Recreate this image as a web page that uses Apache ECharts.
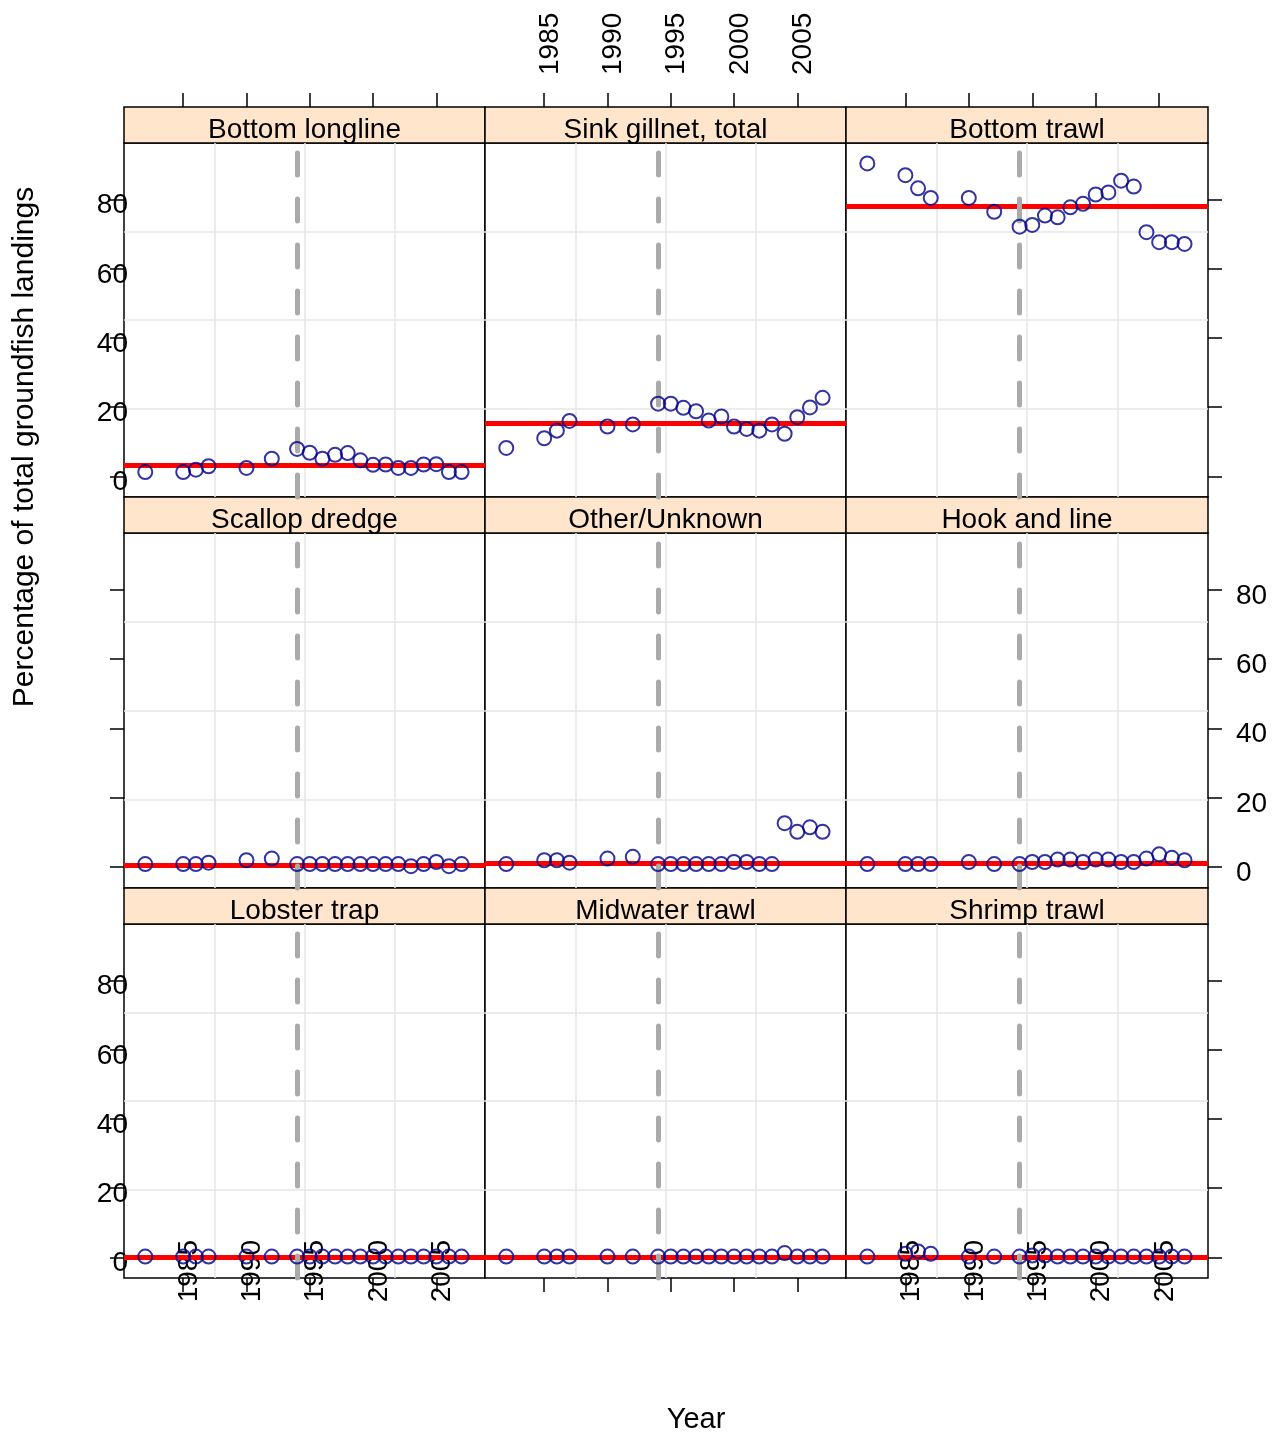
<!DOCTYPE html>
<html><head><meta charset="utf-8">
<script src="https://cdn.jsdelivr.net/npm/echarts@6/dist/echarts.min.js"></script>
<style>html,body{margin:0;padding:0;background:#fff}#c{width:1285px;height:1438px}</style>
</head><body><div id="c"></div>
<script>
// ---------------- data ----------------
const years = [1982,1985,1986,1987,1990,1992,1994,1995,1996,1997,1998,1999,2000,2001,2002,2003,2004,2005,2006,2007];
const gearNames = ["Bottom longline","Sink gillnet, total","Bottom trawl","Scallop dredge","Other/Unknown","Hook and line","Lobster trap","Midwater trawl","Shrimp trawl"];
const bottomLongline = [1.2,1.2,1.9,2.9,2.4,5.1,7.9,6.8,5.1,6.2,6.7,4.6,3.3,3.4,2.4,2.4,3.4,3.5,1.2,1.2];
const sinkGillnet    = [8.2,11.0,13.2,16.0,14.4,15.0,21.0,21.0,19.8,18.8,16.1,17.3,14.4,13.7,13.2,15.0,12.3,17.1,19.9,22.7];
const bottomTrawl    = [90.5,87.1,83.3,80.5,80.5,76.5,72.2,72.7,75.4,74.9,77.8,78.8,81.5,82.1,85.5,83.8,70.6,67.7,67.7,67.2];
const scallopDredge  = [0.9,0.9,0.9,1.3,2.0,2.5,0.9,0.9,0.9,0.9,0.9,0.9,0.9,0.9,0.9,0.3,0.9,1.5,0.3,0.9];
const otherUnknown   = [0.9,2.0,2.0,1.3,2.5,3.0,0.9,0.9,0.9,0.9,0.9,0.9,1.5,1.5,0.9,0.9,12.7,10.2,11.5,10.2];
const hookAndLine    = [0.9,0.9,0.9,0.9,1.5,0.9,0.9,1.5,1.5,2.2,2.2,1.5,2.2,2.2,1.5,1.5,2.5,3.7,2.7,2.0];
const lobsterTrap    = [0.2,0.2,0.2,0.2,0.2,0.2,0.2,0.2,0.2,0.2,0.2,0.2,0.2,0.2,0.2,0.2,0.2,0.2,0.2,0.2];
const midwaterTrawl  = [0.2,0.2,0.2,0.2,0.2,0.2,0.2,0.2,0.2,0.2,0.2,0.2,0.2,0.2,0.2,0.2,1.2,0.2,0.2,0.2];
const shrimpTrawl    = [0.2,1.0,1.7,1.0,0.2,0.2,0.2,0.5,0.5,0.2,0.2,0.2,0.2,0.2,0.2,0.2,0.2,0.2,0.2,0.2];
const referenceLevels = [3.1,15.2,78.1,0.6,1.1,1.1,0,0,0];
const changeYear = 1994;
const xTicks = [1985,1990,1995,2000,2005];
const yTicks = [0,20,40,60,80];
const yTitle = "Percentage of total groundfish landings";
const xTitle = "Year";

const panelValues = [bottomLongline,sinkGillnet,bottomTrawl,scallopDredge,otherUnknown,hookAndLine,lobsterTrap,midwaterTrawl,shrimpTrawl];

// ---------------- layout ----------------
const XMIN = 1980.32, XMAX = 2008.85, YMIN = -6.0, YMAX = 96.4;
const colLeft = [124,485,846], colWidth = [361,361,362];
const stripTop = [107,497,888], stripH = 36, panelH = [354,355,354];
const FONT = '"Liberation Sans", Arial, sans-serif';
const FS = 28;
const richFmt = v => '{a|' + v + '}';
const rich = {a: {fontSize: FS, fontFamily: FONT, color: '#000', padding: [12, 0, 0, 0]}};

const grid = [], xAxis = [], yAxis = [], series = [], graphic = [];

for (let r = 0; r < 3; r++) {
  for (let c = 0; c < 3; c++) {
    const p = r * 3 + c;
    // panel grid
    const gi = grid.length;
    grid.push({left: colLeft[c], top: stripTop[r] + stripH, width: colWidth[c], height: panelH[r],
      show: true, backgroundColor: '#ffffff', borderColor: '#000', borderWidth: 1.5, containLabel: false});
    const xi = xAxis.length;
    xAxis.push({gridIndex: gi, type: 'value', min: XMIN, max: XMAX, position: 'bottom',
      axisLine: {show: false, onZero: false}, splitLine: {show: false},
      axisTick: {show: r === 2, customValues: xTicks, length: 14, lineStyle: {color: '#000', width: 1.5}},
      axisLabel: {show: r === 2 && c !== 1, customValues: xTicks, rotate: 90, margin: -38,
        formatter: richFmt, rich, fontSize: FS, fontFamily: FONT, color: '#000'}});
    xAxis.push({gridIndex: gi, type: 'value', min: 0, max: 4, interval: 1,
      axisLine: {show: false, onZero: false}, axisTick: {show: false}, axisLabel: {show: false},
      splitLine: {show: true, showMinLine: false, showMaxLine: false, lineStyle: {color: '#e6e6e6', width: 1.5}}});
    const yi = yAxis.length;
    const yLab = (c === 0 && r !== 1) || (c === 2 && r === 1);
    yAxis.push({gridIndex: gi, type: 'value', min: YMIN, max: YMAX, position: c === 2 ? 'right' : 'left',
      axisLine: {show: false, onZero: false}, splitLine: {show: false},
      axisTick: {show: c !== 1, customValues: yTicks, length: 14, lineStyle: {color: '#000', width: 1.5}},
      axisLabel: {show: yLab, customValues: yTicks, margin: c === 0 ? -4 : 28,
        formatter: richFmt, rich, fontSize: FS, fontFamily: FONT, color: '#000'}});
    yAxis.push({gridIndex: gi, type: 'value', min: 0, max: 4, interval: 1, position: c === 2 ? 'left' : 'right',
      axisLine: {show: false, onZero: false}, axisTick: {show: false}, axisLabel: {show: false},
      splitLine: {show: true, showMinLine: false, showMaxLine: false, lineStyle: {color: '#e6e6e6', width: 1.5}}});

    // reference level (red)
    series.push({type: 'line', xAxisIndex: xi, yAxisIndex: yi, data: [], z: 3, silent: true,
      markLine: {silent: true, symbol: ['none', 'none'], label: {show: false}, animation: false,
        lineStyle: {color: '#ff0000', width: 5, type: 'solid'}, data: [{yAxis: referenceLevels[p]}]}});
    // change year (grey dashed)
    series.push({type: 'line', xAxisIndex: xi, yAxisIndex: yi, data: [], z: 4, silent: true,
      markLine: {silent: true, symbol: ['none', 'none'], label: {show: false}, animation: false,
        lineStyle: {color: '#aaaaaa', width: 5, type: [22, 24], cap: 'round'}, data: [{xAxis: changeYear}]}});
    // points
    series.push({type: 'scatter', xAxisIndex: xi, yAxisIndex: yi, z: 5, animation: false,
      symbol: 'circle', symbolSize: 14,
      itemStyle: {color: 'rgba(0,0,0,0)', borderColor: '#00008b', borderWidth: 2},
      data: years.map((y, i) => [y, panelValues[p][i]])});

    // strip grid
    const sg = grid.length;
    grid.push({left: colLeft[c], top: stripTop[r], width: colWidth[c], height: stripH,
      show: true, backgroundColor: '#ffe5cc', borderColor: '#000', borderWidth: 1.5});
    xAxis.push({gridIndex: sg, type: 'value', min: XMIN, max: XMAX, position: 'top',
      axisLine: {show: false, onZero: false}, splitLine: {show: false},
      axisTick: {show: r === 0, customValues: xTicks, length: 14, lineStyle: {color: '#000', width: 1.5}},
      axisLabel: {show: r === 0 && c === 1, customValues: xTicks, rotate: -90, margin: 32,
        formatter: richFmt, rich, fontSize: FS, fontFamily: FONT, color: '#000'}});
    yAxis.push({gridIndex: sg, type: 'value', min: 0, max: 1, show: false});
    graphic.push({type: 'text', x: colLeft[c] + colWidth[c] / 2, y: stripTop[r] + 23, z: 100,
      style: {text: gearNames[p], font: FS + 'px ' + FONT, fill: '#000', align: 'center', verticalAlign: 'middle'}});
  }
}

graphic.push({type: 'text', x: 25, y: 447, rotation: Math.PI / 2, z: 100,
  style: {text: yTitle, font: '30px ' + FONT, fill: '#000', align: 'center', verticalAlign: 'middle'}});
graphic.push({type: 'text', x: 696, y: 1420, z: 100,
  style: {text: xTitle, font: '29px ' + FONT, fill: '#000', align: 'center', verticalAlign: 'middle'}});

const chart = echarts.init(document.getElementById('c'), null, {renderer: 'canvas'});
chart.setOption({animation: false, backgroundColor: '#ffffff', grid, xAxis, yAxis, series, graphic});
</script></body></html>
